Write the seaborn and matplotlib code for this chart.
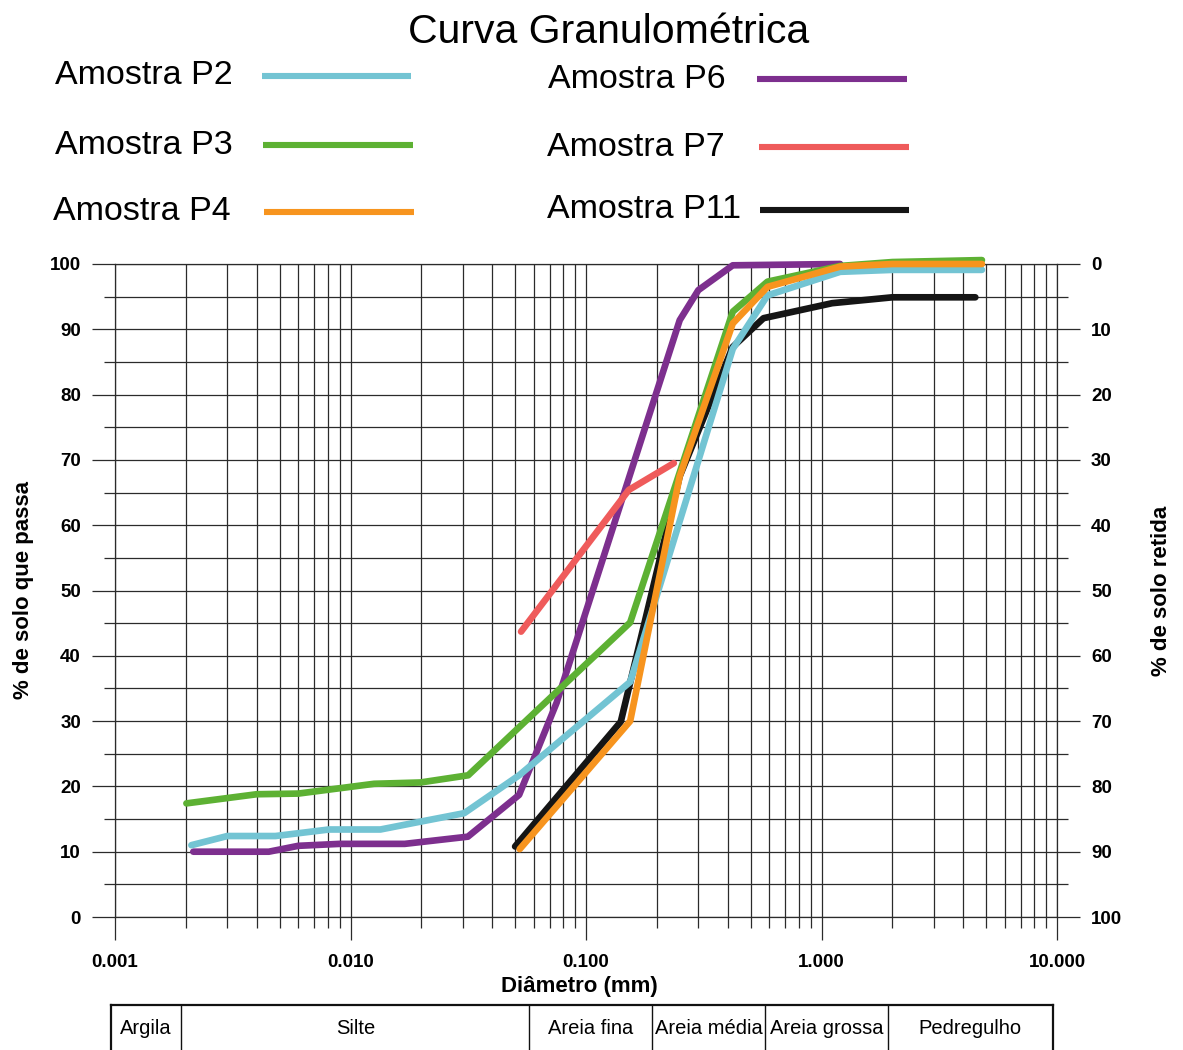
import matplotlib
matplotlib.use("Agg")
import matplotlib.pyplot as plt
import matplotlib.ticker as mticker
from matplotlib.lines import Line2D
import seaborn as sns
import pandas as pd
import numpy as np

# diametro (mm) x % que passa
p2_d = [0.00211, 0.003, 0.0048, 0.0081, 0.0134, 0.0198, 0.0304, 0.052, 0.154, 0.42, 0.59, 1.2, 2.0, 4.8]
p2_v = [11.0, 12.4, 12.4, 13.4, 13.4, 14.6, 15.9, 21.7, 36.0, 87.0, 95.2, 98.8, 99.1, 99.1]

p3_d = [0.00201, 0.004, 0.006, 0.0126, 0.0198, 0.0316, 0.154, 0.42, 0.59, 1.2, 2.0, 4.8]
p3_v = [17.4, 18.8, 18.9, 20.4, 20.6, 21.7, 45.1, 92.7, 97.3, 99.7, 100.3, 100.6]

p4_d = [0.0523, 0.154, 0.25, 0.42, 0.59, 1.2, 2.0, 4.8]
p4_v = [10.4, 30.0, 67.5, 90.9, 96.5, 99.6, 100.0, 100.0]

p6_d = [0.00215, 0.0045, 0.006, 0.009, 0.017, 0.0315, 0.052, 0.075, 0.25, 0.30, 0.42, 1.2]
p6_v = [10.0, 10.0, 10.9, 11.2, 11.2, 12.3, 18.7, 32.8, 91.4, 96.0, 99.8, 100.0]

p7_d = [0.053, 0.152, 0.236]
p7_v = [43.7, 65.4, 69.5]

p11_d = [0.050, 0.1405, 0.25, 0.42, 0.567, 1.11, 2.0, 4.5]
p11_v = [10.8, 29.9, 67.5, 87.3, 91.7, 94.0, 94.9, 94.9]

amostras = ["Amostra P2", "Amostra P3", "Amostra P4", "Amostra P6", "Amostra P7", "Amostra P11"]
cores = {"Amostra P2": "#73C4D3", "Amostra P3": "#5DB133", "Amostra P4": "#F7941E",
         "Amostra P6": "#7D2F8E", "Amostra P7": "#EF5B5B", "Amostra P11": "#151515"}
# ordem de desenho (de baixo para cima)
ordem = ["Amostra P6", "Amostra P11", "Amostra P3", "Amostra P2", "Amostra P4", "Amostra P7"]

x_ticks = [0.001, 0.01, 0.1, 1, 10]
x_labels = ["0.001", "0.010", "0.100", "1.000", "10.000"]

# classificacao granulometrica (limites em mm)
classes = ["Argila", "Silte", "Areia fina", "Areia média", "Areia grossa", "Pedregulho"]
limites = [0.001, 0.002, 0.06, 0.2, 0.6, 2.0, 10]

frames = []
for nome, d, v in zip(amostras, [p2_d, p3_d, p4_d, p6_d, p7_d, p11_d],
                      [p2_v, p3_v, p4_v, p6_v, p7_v, p11_v]):
    frames.append(pd.DataFrame({"Diametro": d, "Passa": v, "Amostra": nome}))
df = pd.concat(frames, ignore_index=True)

sns.set_theme(style="white")
plt.rcParams["font.family"] = ["Liberation Sans", "DejaVu Sans"]
plt.rcParams.update({"text.color": "black", "axes.labelcolor": "black",
                     "xtick.color": "black", "ytick.color": "black"})

W, H = 1183, 1050
grid_c = "#2b2b2b"
fig = plt.figure(figsize=(W / 100, H / 100), dpi=100)
ax = fig.add_axes([115 / W, 1 - 917 / H, 942 / W, 653 / H])

sns.lineplot(data=df, x="Diametro", y="Passa", hue="Amostra", hue_order=ordem,
             palette=cores, estimator=None, sort=False, linewidth=4.8,
             legend=False, ax=ax, clip_on=False, zorder=3)

ax.set_xscale("log")
ax.set_xlim(0.001, 10)
ax.set_ylim(0, 100)
ax.xaxis.set_major_locator(mticker.FixedLocator(x_ticks))
ax.xaxis.set_major_formatter(mticker.FixedFormatter(x_labels))
ax.xaxis.set_minor_locator(mticker.LogLocator(base=10, subs=np.arange(2, 10)))
ax.xaxis.set_minor_formatter(mticker.NullFormatter())
ax.set_yticks(range(0, 101, 10))
ax.set_yticks(range(5, 100, 10), minor=True)
ax.grid(which="both", color=grid_c, lw=0.9)
ax.tick_params(which="both", direction="out", color=grid_c, width=0.9, labelcolor="black",
               top=False, right=False, left=True, bottom=True)
ax.tick_params(which="major", length=16.5, labelsize=13.5, pad=8)
ax.tick_params(which="minor", length=8)
ax.tick_params(axis="x", which="major", pad=10)
for lab in ax.get_xticklabels() + ax.get_yticklabels():
    lab.set_fontweight("bold")
for s in ax.spines.values():
    s.set_color(grid_c)
    s.set_linewidth(0.9)

ax.set_xlabel("Diâmetro (mm)", fontsize=16, fontweight="bold")
ax.xaxis.set_label_coords(0.4926, -0.0904)
ax.set_ylabel("% de solo que passa", fontsize=16, fontweight="bold")
ax.yaxis.set_label_coords(-0.086, 0.5)

ax2 = ax.twinx()
ax2.set_ylim(100, 0)
ax2.set_yticks(range(0, 101, 10))
ax2.set_yticks(range(5, 100, 10), minor=True)
ax2.grid(False)
ax2.tick_params(which="both", direction="out", color=grid_c, width=0.9, labelcolor="black",
                right=True, left=False)
ax2.tick_params(which="major", length=16.5, labelsize=13.5, pad=8)
ax2.tick_params(which="minor", length=8)
for lab in ax2.get_yticklabels():
    lab.set_fontweight("bold")
for s in ax2.spines.values():
    s.set_visible(False)
ax2.set_ylabel("% de solo retida", fontsize=16, fontweight="bold")
ax2.yaxis.set_label_coords(1.0998, 0.5)

# legenda em duas colunas: texto a esquerda, traco a direita
pos_legenda = [(55, 262, 411, 76), (55, 263, 413, 145), (53, 264, 414, 212),
               (548, 757, 907, 79), (547, 759, 909, 147), (547, 760, 909, 210)]
for nome, (xt, x0, x1, y) in zip(amostras, pos_legenda):
    fig.text(xt / W, 1 - y / H, nome, ha="left", va="center", fontsize=24.5)
    fig.add_artist(Line2D([x0 / W, x1 / W], [1 - y / H, 1 - y / H], color=cores[nome],
                          lw=4.4, solid_capstyle="butt", transform=fig.transFigure))

fig.text(609 / W, 1 - 43 / H, "Curva Granulométrica", ha="center", va="baseline", fontsize=29.5)

# tabela de classificacao
axt = fig.add_axes([110.6 / W, 1 - 1062 / H, 942 / W, 57 / H])
axt.set_xscale("log")
axt.set_xlim(limites[0], limites[-1])
axt.set_ylim(0, 1)
for b in limites[1:-1]:
    axt.axvline(b, color="#111111", lw=1.0)
for nome, a, b in zip(classes, limites[:-1], limites[1:]):
    axt.text(np.sqrt(a * b), 0.49, nome, ha="center", va="baseline", fontsize=14.5)
axt.set_xticks([])
axt.set_yticks([])
axt.minorticks_off()
for s in axt.spines.values():
    s.set_color("#111111")
    s.set_linewidth(1.6)

fig.savefig("out.png", dpi=100)
